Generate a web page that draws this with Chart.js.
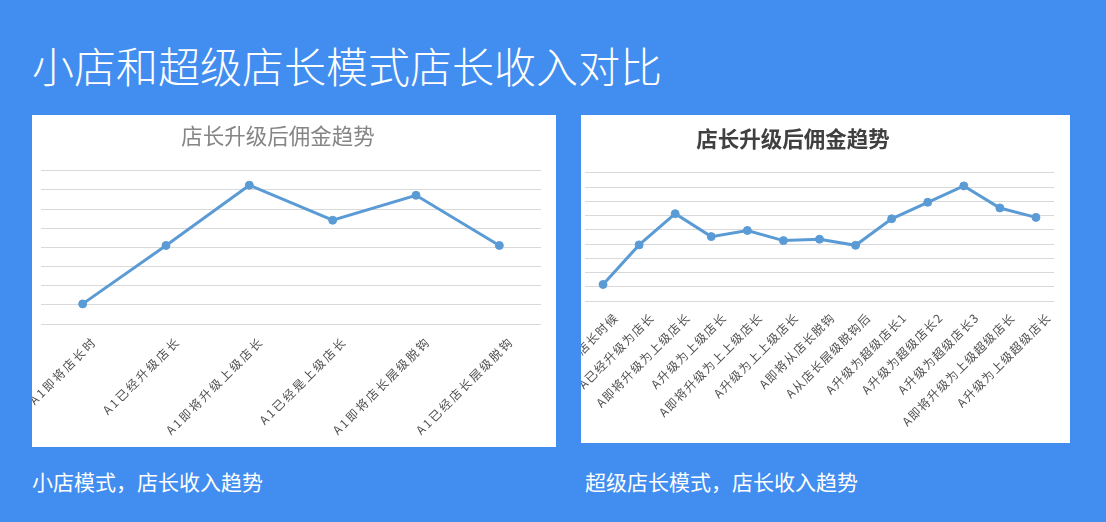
<!DOCTYPE html>
<html>
<head>
<meta charset="utf-8">
<script src="https://cdn.jsdelivr.net/npm/chart.js@4.4.1/dist/chart.umd.min.js"></script>
<style>
  html, body { margin: 0; padding: 0; }
  body { width: 1106px; height: 522px; background: #418df0; position: relative; overflow: hidden;
         font-family: "Noto Sans CJK SC", "Noto Sans", sans-serif; }
  #mainTitle { position: absolute; left: 32px; top: 44px; font-size: 42px; line-height: 42px;
               color: #fff; font-weight: 300; white-space: nowrap; }
  .panel { position: absolute; background: #fff; overflow: hidden; }
  .wrap { position: absolute; top: 0; }
  .caption { position: absolute; top: 471px; font-size: 21px; line-height: 21px; color: #fff; white-space: nowrap; }
</style>
</head>
<body>
<div id="mainTitle">小店和超级店长模式店长收入对比</div>

<div class="panel" style="left:32px;top:115px;width:524px;height:332px;">
  <div class="wrap" style="left:-17px;width:541px;height:332px;">
    <canvas id="c1" width="541" height="332" style="width:541px;height:332px;"></canvas>
  </div>
</div>

<div class="panel" style="left:581px;top:115px;width:489px;height:328px;">
  <div class="wrap" style="left:-49px;width:538px;height:328px;">
    <canvas id="c2" width="538" height="328" style="width:538px;height:328px;"></canvas>
  </div>
</div>

<div class="caption" style="left:32px;">小店模式，店长收入趋势</div>
<div class="caption" style="left:585px;">超级店长模式，店长收入趋势</div>

<script>
// ---- data ----
const chartTitle = "店长升级后佣金趋势";

const smallStoreLabels = [
  "A1即将店长时",
  "A1已经升级店长",
  "A1即将升级上级店长",
  "A1已经是上级店长",
  "A1即将店长层级脱钩",
  "A1已经店长层级脱钩"
];
const smallStoreValues = [1.05, 4.1, 7.25, 5.42, 6.72, 4.1];

const superStoreLabels = [
  "A即将成为店长时候",
  "A已经升级为店长",
  "A即将升级为上级店长",
  "A升级为上级店长",
  "A即将升级为上上级店长",
  "A升级为上上级店长",
  "A即将从店长脱钩",
  "A从店长层级脱钩后",
  "A升级为超级店长1",
  "A升级为超级店长2",
  "A升级为超级店长3",
  "A即将升级为上级超级店长",
  "A升级为上级超级店长"
];
const superStoreValues = [1.16, 3.94, 6.13, 4.52, 4.95, 4.24, 4.34, 3.91, 5.77, 6.93, 8.08, 6.53, 5.87];

const smallAxisMax = 8;
const superAxisMax = 9;

// ---- helpers ----
const lineBlue = "#5b9bd5";
const gridGray = "#d9d9d9";

const labelSpacingPlugin = {
  id: "labelSpacing",
  beforeDraw(chart, args, opts) {
    const sc = chart.scales.x;
    if (sc && !sc._spacingWrapped) {
      const orig = sc.drawLabels;
      sc.drawLabels = function (area) {
        const ctx = this.ctx;
        ctx.save();
        ctx.letterSpacing = (opts.spacing || 0) + "px";
        orig.call(this, area);
        ctx.restore();
      };
      sc._spacingWrapped = true;
    }
  }
};

function makeChart(id, labels, values, cfg) {
  return new Chart(document.getElementById(id), {
    type: "line",
    data: {
      labels: labels,
      datasets: [{
        data: values,
        borderColor: lineBlue,
        backgroundColor: lineBlue,
        borderWidth: 3,
        pointRadius: 4,
        pointHoverRadius: 4,
        pointBackgroundColor: lineBlue,
        pointBorderColor: lineBlue,
        pointBorderWidth: 1,
        tension: 0,
        fill: false
      }]
    },
    options: {
      responsive: false,
      animation: false,
      events: [],
      layout: { padding: { left: 0, right: cfg.padRight, top: 0, bottom: 0 } },
      plugins: {
        legend: { display: false },
        tooltip: { enabled: false },
        title: {
          display: true,
          text: chartTitle,
          color: cfg.titleColor,
          font: { family: "'Noto Sans CJK SC', sans-serif", size: 21.5, weight: cfg.titleWeight, lineHeight: 1.2 },
          padding: { top: cfg.titleTop, bottom: cfg.titleBottom }
        },
        labelSpacing: { spacing: cfg.spacing }
      },
      scales: {
        x: {
          offset: true,
          grid: { display: false, drawTicks: false },
          border: { display: false },
          ticks: {
            autoSkip: false,
            minRotation: 45,
            maxRotation: 45,
            padding: cfg.tickPad,
            labelOffset: cfg.labelOffset,
            color: "#505050",
            font: { family: "'Noto Sans CJK SC', sans-serif", size: 12 }
          },
          afterFit(scale) {
            scale.height = cfg.xHeight;
            scale.paddingLeft = 0;
            scale.paddingRight = 0;
          }
        },
        y: {
          min: 0,
          max: cfg.yMax,
          grid: { color: gridGray, lineWidth: 1, drawTicks: false },
          border: { display: false },
          ticks: { display: false, stepSize: 1 },
          afterFit(scale) {
            scale.width = cfg.yWidth;
            scale.paddingTop = 0;
            scale.paddingBottom = 0;
          }
        }
      }
    },
    plugins: [labelSpacingPlugin]
  });
}

makeChart("c1", smallStoreLabels, smallStoreValues, {
  padRight: 15, yWidth: 26, xHeight: 123, yMax: smallAxisMax,
  titleColor: "#858585", titleWeight: "normal", titleTop: 8, titleBottom: 22,
  spacing: 2.2, tickPad: 10, labelOffset: 12
});

makeChart("c2", superStoreLabels, superStoreValues, {
  padRight: 16, yWidth: 53, xHeight: 142, yMax: superAxisMax,
  titleColor: "#404040", titleWeight: "bold", titleTop: 11, titleBottom: 21,
  spacing: 1.2, tickPad: 9, labelOffset: 13
});
</script>
</body>
</html>
